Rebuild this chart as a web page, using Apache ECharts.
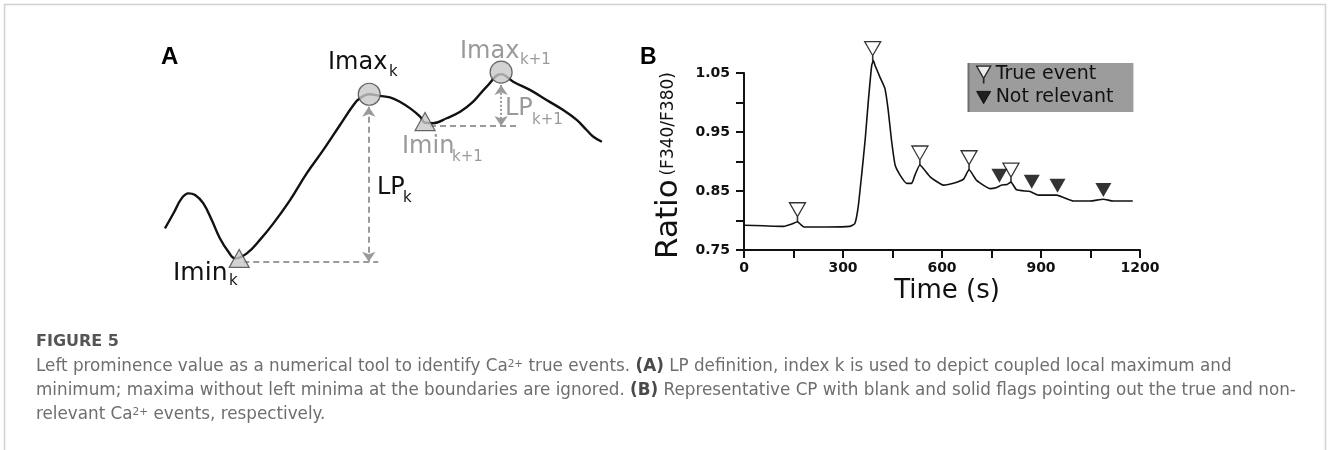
<!DOCTYPE html>
<html>
<head>
<meta charset="utf-8">
<script src="https://cdn.jsdelivr.net/npm/echarts@6/dist/echarts.min.js"></script>
<style>
  html, body { margin: 0; padding: 0; background: #fff; }
  #chart { width: 1328px; height: 450px; }
</style>
</head>
<body>
<div id="chart"></div>
<script>
// Panel B: calcium trace, ratio F340/F380 over time (s)
const timeS = [0, 60, 120, 145, 162, 172, 182, 250, 320, 336, 346, 357, 367, 377, 387, 392, 397, 412, 427, 437, 447, 458, 473, 493, 508, 518, 533, 564, 604, 640, 665, 682, 705, 746, 766, 781, 797, 809, 826, 867, 892, 948, 968, 998, 1048, 1089, 1119, 1178];
const ratio = [0.792, 0.791, 0.790, 0.794, 0.798, 0.793, 0.789, 0.789, 0.790, 0.795, 0.823, 0.880, 0.936, 1.004, 1.063, 1.071, 1.063, 1.043, 1.024, 0.987, 0.936, 0.894, 0.877, 0.863, 0.863, 0.877, 0.894, 0.874, 0.860, 0.864, 0.870, 0.886, 0.868, 0.854, 0.856, 0.860, 0.861, 0.865, 0.852, 0.849, 0.843, 0.843, 0.839, 0.833, 0.833, 0.836, 0.833, 0.833];

// event flags (blank = true event, solid = not relevant)
const trueT = [162, 390, 533, 682, 809];
const trueR = [0.798, 1.071, 0.894, 0.886, 0.865];
const notT = [774, 872, 950, 1089];
const notR = [0.864, 0.854, 0.847, 0.840];

// Panel A: schematic curve (arbitrary units)
const aX = [1.1, 3.0, 4.8, 6.3, 7.8, 9.6, 11.5, 13.3, 15.2, 16.7, 19.3, 22.2, 25.2, 28.9, 32.6, 36.3, 40.0, 43.0, 44.4, 46.5, 48.9, 51.1, 53.3, 55.6, 57.8, 58.9, 60.7, 63.7, 66.7, 69.6, 72.6, 75.8, 78.5, 82.2, 85.9, 89.6, 92.6, 94.8, 96.3, 98.2];
const aY = [21.5, 27.8, 34.0, 36.1, 35.4, 32.0, 25.0, 17.4, 11.8, 9.0, 11.1, 16.7, 23.6, 33.3, 44.4, 54.2, 64.6, 72.9, 75.7, 77.4, 76.7, 76.1, 74.3, 71.5, 68.1, 65.5, 65.3, 67.4, 70.1, 74.3, 80.6, 85.8, 82.6, 79.2, 75.0, 70.8, 66.7, 62.5, 59.7, 57.6];
const minPts = [[17.6, 9.0], [58.9, 66.0]];
const maxPts = [[46.5, 77.4], [75.8, 86.6]];
const lpLevels = [[[18.5, 7.4], [48.5, 7.4]], [[60, 64.2], [79.3, 64.2]]];
const lpArrows = [[[46.4, 72.2], [46.4, 7.6]], [[75.8, 81.3], [75.8, 64.2]]];

const chart = echarts.init(document.getElementById('chart'));

const trueIcon = 'path://M0,0 L16,0 L8,14 Z M7.8,14 L8.2,14 L8.2,19 L7.8,19 Z';
const notIcon = 'path://M0,0 L16,0 L8,14 Z';
const font = 'DejaVu Sans';
const grayTxt = '#9a9a9a';
const capColor = '#6e6e6e';
const capSize = 16.8;

// text helper, y is the baseline
function txt(x, base, text, size, color, weight, family) {
  return {
    type: 'text', x: x, y: base - 0.33 * size, silent: true,
    style: {
      text: text, fill: color, fontSize: size, fontWeight: weight || 'normal',
      fontFamily: family || font, align: 'left', verticalAlign: 'middle'
    }
  };
}

const capRich = {
  sup: { fontSize: 10.5, verticalAlign: 'top', fill: capColor, fontFamily: font },
  b: { fontWeight: 'bold', fill: '#4a4a4a', fontSize: capSize, fontFamily: font }
};
function capLine(y, text) {
  return {
    type: 'text', x: 36, y: y, silent: true,
    style: {
      text: text, rich: capRich, fill: capColor, fontSize: capSize,
      fontFamily: font, align: 'left', verticalAlign: 'middle'
    }
  };
}

const option = {
  backgroundColor: '#fff',
  animation: false,
  textStyle: { fontFamily: font },
  grid: [
    { left: 744, top: 73, width: 396, height: 177 },
    { left: 160, top: 40, width: 450, height: 240 }
  ],
  xAxis: [
    {
      type: 'value', gridIndex: 0, min: 0, max: 1200, interval: 150,
      name: 'Time (s)', nameLocation: 'middle', nameGap: 28,
      nameTextStyle: { fontSize: 26, color: '#111', padding: [0, 0, 0, 10] },
      axisLine: { lineStyle: { color: '#111', width: 2 } },
      axisTick: { length: 8, lineStyle: { width: 2, color: '#111' } },
      axisLabel: {
        margin: 11, fontSize: 14, fontWeight: 'bold', color: '#111',
        formatter: v => (v % 300 === 0 ? String(v) : '')
      },
      splitLine: { show: false }
    },
    { type: 'value', gridIndex: 1, min: 0, max: 100, show: false }
  ],
  yAxis: [
    {
      type: 'value', gridIndex: 0, min: 0.75, max: 1.05, interval: 0.05,
      name: '{big|Ratio} {small|(F340/F380)}', nameLocation: 'middle', nameGap: 60, nameRotate: 90,
      nameTextStyle: {
        color: '#111', padding: [0, 8, 0, 0],
        rich: {
          big: { fontSize: 31, color: '#111', fontFamily: font },
          small: { fontSize: 17, color: '#111', fontFamily: font }
        }
      },
      axisLine: { show: true, lineStyle: { color: '#111', width: 2 } },
      axisTick: { show: true, length: 8, lineStyle: { width: 2, color: '#111' } },
      axisLabel: {
        margin: 14, fontSize: 14, fontWeight: 'bold', color: '#111',
        formatter: v => {
          const c = Math.round(v * 100);
          return c % 10 === 5 ? (c / 100).toFixed(2) : '';
        }
      },
      splitLine: { show: false }
    },
    { type: 'value', gridIndex: 1, min: 0, max: 100, show: false }
  ],
  legend: {
    left: 968, top: 63, orient: 'vertical',
    backgroundColor: '#9c9c9c', padding: [2, 20, 5, 8], itemGap: 4,
    itemWidth: 14, itemHeight: 19, selectedMode: false,
    textStyle: { fontSize: 19, color: '#111', fontFamily: font },
    data: [
      { name: 'True event', icon: trueIcon, itemStyle: { color: '#fff', borderColor: '#000', borderWidth: 1.3 } },
      { name: 'Not relevant', icon: notIcon, itemStyle: { color: '#000', borderColor: '#000', borderWidth: 1 } }
    ]
  },
  series: [
    {
      name: 'Ratio', type: 'line', xAxisIndex: 0, yAxisIndex: 0,
      data: timeS.map((t, i) => [t, ratio[i]]),
      showSymbol: false, clip: false, smooth: 0.15,
      lineStyle: { color: '#111', width: 1.6 }
    },
    {
      name: 'True event', type: 'scatter', xAxisIndex: 0, yAxisIndex: 0, clip: false,
      data: trueT.map((t, i) => [t, trueR[i]]),
      symbol: trueIcon, symbolSize: [16, 19], symbolOffset: [0, -9.5],
      itemStyle: { color: '#fff', borderColor: '#000', borderWidth: 1.3 }, z: 5
    },
    {
      name: 'Not relevant', type: 'scatter', xAxisIndex: 0, yAxisIndex: 0, clip: false,
      data: notT.map((t, i) => [t, notR[i]]),
      symbol: notIcon, symbolSize: [16, 14], symbolOffset: [0, -7],
      itemStyle: { color: '#000' }, z: 5
    },
    // Panel A
    {
      type: 'line', xAxisIndex: 1, yAxisIndex: 1,
      data: aX.map((x, i) => [x, aY[i]]),
      showSymbol: false, smooth: 0.4, clip: false,
      lineStyle: { color: '#111', width: 2.4 }
    },
    {
      type: 'lines', coordinateSystem: 'cartesian2d', xAxisIndex: 1, yAxisIndex: 1,
      data: lpLevels.map(c => ({ coords: c })),
      symbol: 'none',
      lineStyle: { color: '#9a9a9a', width: 2, type: [6, 4], opacity: 1 }
    },
    {
      type: 'lines', coordinateSystem: 'cartesian2d', xAxisIndex: 1, yAxisIndex: 1,
      data: [
        { coords: lpArrows[0], lineStyle: { type: [6, 4] } },
        { coords: lpArrows[1], lineStyle: { type: [2, 2] } }
      ],
      symbol: ['arrow', 'arrow'], symbolSize: 10,
      lineStyle: { color: '#9a9a9a', width: 2, opacity: 1 }
    },
    {
      type: 'scatter', xAxisIndex: 1, yAxisIndex: 1, clip: false,
      data: minPts, symbol: 'triangle', symbolSize: [20, 18],
      itemStyle: { color: '#c8c8c8', borderColor: '#444', borderWidth: 1.2 }, z: 6
    },
    {
      type: 'scatter', xAxisIndex: 1, yAxisIndex: 1, clip: false,
      data: maxPts, symbol: 'circle', symbolSize: 22,
      itemStyle: { color: '#c8c8c8', borderColor: '#444', borderWidth: 1.2 }, z: 6
    }
  ],
  graphic: [
    {
      type: 'rect', silent: true,
      shape: { x: 4.5, y: 4.5, width: 1321, height: 500 },
      style: { fill: 'none', stroke: '#d2d2d2', lineWidth: 1.5 }
    },
    {
      type: 'line', silent: true, z: 200,
      shape: { x1: 968.5, y1: 63, x2: 968.5, y2: 112 },
      style: { stroke: '#6e6e6e', lineWidth: 2 }
    },
    txt(161, 65, 'A', 24, '#000', 'bold', 'Liberation Sans'),
    txt(640, 65, 'B', 23, '#000', 'bold', 'Liberation Sans'),
    txt(328, 71, 'Imax', 24, '#111'),
    txt(389, 77, 'k', 15, '#111'),
    txt(460, 60, 'Imax', 24, grayTxt),
    txt(520, 65, 'k+1', 15, grayTxt),
    txt(377, 196, 'LP', 24, '#111'),
    txt(403, 203, 'k', 15, '#111'),
    txt(505, 117, 'LP', 24, grayTxt),
    txt(532, 125, 'k+1', 15, grayTxt),
    txt(402, 155, 'Imin', 24, grayTxt),
    txt(452, 162, 'k+1', 15, grayTxt),
    txt(173, 282, 'Imin', 25, '#111'),
    txt(229, 286, 'k', 15, '#111'),
    {
      type: 'text', x: 36, y: 342, silent: true,
      style: { text: 'FIGURE 5', fill: '#555', fontSize: 16, fontWeight: 'bold', fontFamily: font, verticalAlign: 'middle' }
    },
    capLine(367, 'Left prominence value as a numerical tool to identify Ca{sup|2+} true events. {b|(A)} LP definition, index k is used to depict coupled local maximum and'),
    capLine(391, 'minimum; maxima without left minima at the boundaries are ignored. {b|(B)} Representative CP with blank and solid flags pointing out the true and non-'),
    capLine(415, 'relevant Ca{sup|2+} events, respectively.')
  ]
};

chart.setOption(option);
window.addEventListener('resize', () => chart.resize());
</script>
</body>
</html>
